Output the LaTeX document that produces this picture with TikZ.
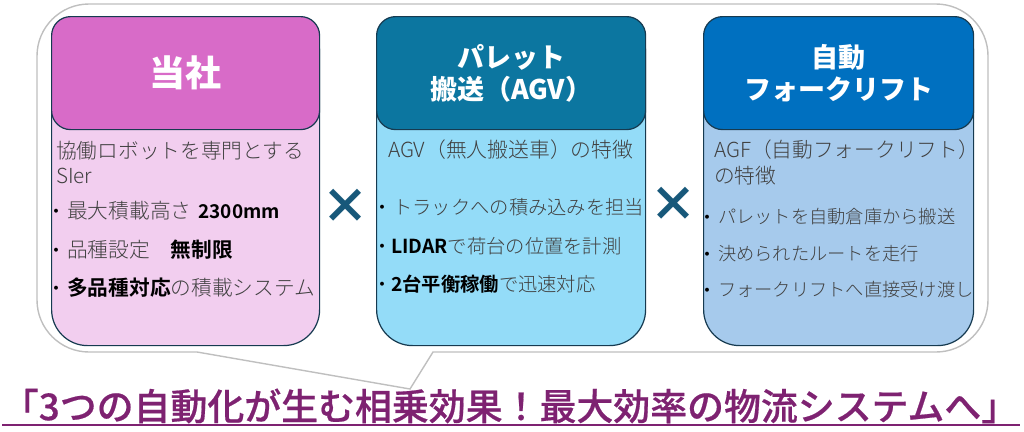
\documentclass[tikz,border=0pt]{standalone}
\usepackage{fontspec}
\setmainfont{Noto Sans CJK JP}
\newfontfamily\medfont[FakeBold=0.5]{Noto Sans CJK JP Medium}
\newfontfamily\lightfont{Noto Sans CJK JP Light}
\newfontfamily\strongfont{Noto Sans CJK JP Bold}
\definecolor{calloutgray}{HTML}{BFBFBF}
\definecolor{edgeblue}{HTML}{163A50}
\definecolor{headA}{HTML}{D86BC8}
\definecolor{bodyA}{HTML}{F2CEEF}
\definecolor{headB}{HTML}{0C76A0}
\definecolor{bodyB}{HTML}{94DCF8}
\definecolor{headC}{HTML}{0070C0}
\definecolor{bodyC}{HTML}{A6CAEC}
\definecolor{crosscol}{HTML}{17587A}
\definecolor{titlecol}{HTML}{7E2271}
\definecolor{txtgray}{HTML}{404040}
\newcommand{\fs}[1]{\fontsize{#1}{#1}\selectfont}
\newcommand{\keyword}[1]{{\color{black}\strongfont #1}}
\tikzset{
  headbox/.style={draw=edgeblue,line width=1.2pt,rounded corners=19pt,minimum height=113pt,anchor=north west,inner sep=0pt,text=white,font=\fs{27}\bfseries,align=center},
  bodybox/.style={draw=edgeblue,line width=1.2pt,rounded corners=36pt,minimum height=329pt,anchor=north west,inner sep=0pt},
  line/.style={anchor=west,inner sep=0pt,text=txtgray,font=\lightfont\fs{20.7}},
  lineB/.style={line,font=\lightfont\fs{19.3}},
  lineC/.style={line,font=\lightfont\fs{18.25}},
  bullet/.style={anchor=center,inner sep=0pt,yshift=-2pt,text=black,font=\fs{14}\bfseries},
  cross/.style={anchor=center,inner sep=0pt,text=crosscol,font=\fs{48}\bfseries},
}
\begin{document}
\begin{tikzpicture}[x=1pt,y=-1pt]
\useasboundingbox (0,0) rectangle (1024,431);
% callout
\draw[calloutgray,line width=1.4pt,fill=white,line join=miter,rounded corners=52pt]
  (197,352) -- (37,352) -- (37,4) -- (988,4) -- (988,352) -- (600,352) [sharp corners] -- (433,352) -- (410,389) -- cycle;
% boxes
\node[bodybox,fill=bodyA,minimum width=268pt] (bodya) at (51,16) {};
\node[bodybox,fill=bodyB,minimum width=269pt] (bodyb) at (376,16) {};
\node[bodybox,fill=bodyC,minimum width=270pt] (bodyc) at (703,16) {};
\node[headbox,fill=headA,minimum width=268pt,font=\fs{36}\bfseries] (heada) at (51,16) {当社};
\node[headbox,fill=headB,minimum width=269pt] (headb) at (376,16) {パレット\\[5pt]搬送（AGV）};
\node[headbox,fill=headC,minimum width=270pt] (headc) at (703,16) {自動\\[5pt]フォークリフト};
% crosses
\node[cross] (crossa) at (345,206) {×};
\node[cross] (crossb) at (673,204) {×};
% box A text
\node[line] (a1) at (56,151) {協働ロボットを専門とする};
\node[line] (a2) at (56,176) {SIer};
\node[bullet] (ab1) at (56,211) {・};
\node[line] (a3) at (67,211) {最大積載高さ\hspace{7pt}\keyword{\fs{19}2300mm}};
\node[bullet] (ab2) at (56,250) {・};
\node[line] (a4) at (67,250) {品種設定　\keyword{無制限}};
\node[bullet] (ab3) at (56,288) {・};
\node[line] (a5) at (67,288) {\keyword{多品種対応}の積載システム};
% box B text
\node[line,font=\lightfont\fs{20.8}] (b1) at (388,150) {AGV（無人搬送車）の特徴};
\node[bullet] (bb1) at (382,207) {・};
\node[lineB] (b2) at (393,207) {トラックへの積み込みを担当};
\node[bullet] (bb2) at (382,246) {・};
\node[lineB] (b3) at (391,246) {\keyword{LIDAR}で荷台の位置を計測};
\node[bullet] (bb3) at (382,284) {・};
\node[lineB] (b4) at (391,284) {\keyword{2台平衡稼働}で迅速対応};
% box C text
\node[line] (c1) at (714,150) {AGF（自動フォークリフト）};
\node[line] (c2) at (714,176) {の特徴};
\node[bullet] (cb1) at (707,217) {・};
\node[lineC] (c3) at (718,217) {パレットを自動倉庫から搬送};
\node[bullet] (cb2) at (707,254) {・};
\node[lineC] (c4) at (718,254) {決められたルートを走行};
\node[bullet] (cb3) at (707,290) {・};
\node[lineC] (c5) at (718,290) {フォークリフトへ直接受け渡し};
% title
\node[anchor=center,inner sep=0pt,text=titlecol,font=\medfont\fs{36.9}] (title) at (510,406) {「3つの自動化が生む相乗効果！最大効率の物流システムへ」};
\coordinate (ulstart) at (2,425);
\coordinate (ulend) at (1020,425);
\draw[titlecol,line width=1.4pt] (ulstart) -- (ulend);
\end{tikzpicture}
\end{document}
